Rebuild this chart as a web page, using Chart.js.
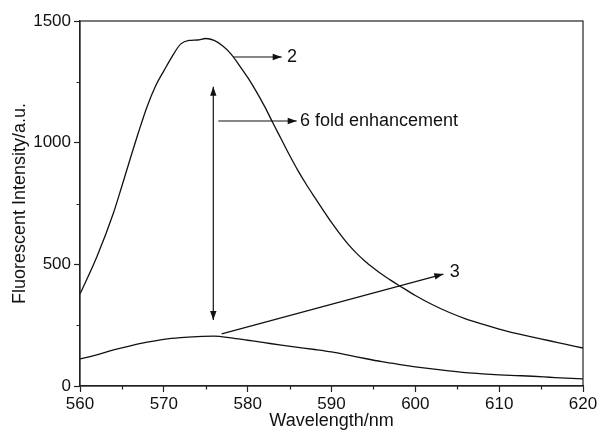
<!DOCTYPE html>
<html>
<head>
<meta charset="utf-8">
<script src="https://cdn.jsdelivr.net/npm/chart.js@4.4.1/dist/chart.umd.min.js"></script>
<style>
  html, body { margin: 0; padding: 0; background: #fff; }
  #wrap { width: 600px; height: 432px; position: relative; }
</style>
</head>
<body>
<div id="wrap"><canvas id="chart"></canvas></div>
<script>
// wavelengths (nm) and intensities
var wavelength2 = [560, 562, 564, 565, 566, 567, 568, 569, 570, 571, 572, 573, 574, 575, 576, 577, 578, 579, 580,
                   581, 582, 583, 584, 585, 586, 587, 588, 589, 590, 591, 592, 593, 594, 595, 596, 597, 598, 599, 600,
                   602, 604, 606, 608, 610, 612, 614, 616, 618, 620];
var intensity2  = [378, 530, 712, 822, 935, 1045, 1148, 1232, 1295, 1355, 1405, 1420, 1422, 1428, 1420, 1398, 1365, 1318, 1268,
                   1212, 1150, 1082, 1015, 948, 885, 828, 775, 723, 672, 625, 582, 545, 513, 485, 459, 436, 414, 393, 372,
                   335, 303, 276, 254, 234, 216, 201, 186, 171, 156];

var wavelength3 = [560, 562, 564, 566, 568, 570, 572, 574, 576, 578, 580, 582, 584, 586, 588, 590,
                   592, 594, 596, 598, 600, 602, 604, 606, 608, 610, 612, 614, 616, 618, 620];
var intensity3  = [111, 128, 148, 165, 180, 192, 199, 203, 205, 198, 188, 178, 168, 159, 150, 140,
                   127, 113, 100, 89, 79, 70, 62, 55, 50, 46, 43, 40, 36, 32, 29];

var xTicks = [560, 570, 580, 590, 600, 610, 620];
var yTicks = [0, 500, 1000, 1500];

// annotation arrows in data units: [x1, y1, x2, y2, headAtStart, headAtEnd]
var arrows = [
    [578.25, 1352, 584.06, 1352, false, true],
    [576.5, 1089, 585.85, 1089, false, true],
    [575.9, 271, 575.9, 1230, true, true],
    [576.9, 214, 603.34, 460, false, true]
];
var notes = [
    ['2', 584.7, 1352],
    ['6 fold enhancement', 586.24, 1089],
    ['3', 604.1, 470]
];

function pts(xs, ys) {
    return xs.map(function (x, i) { return { x: x, y: ys[i] }; });
}

var FONT = "'Liberation Sans', Arial, sans-serif";
var INK = '#111';

function head(ctx, x1, y1, x2, y2) {
    var a = Math.atan2(y2 - y1, x2 - x1);
    var len = 9, w = 3.2;
    ctx.beginPath();
    ctx.moveTo(x2, y2);
    ctx.lineTo(x2 - len * Math.cos(a) + w * Math.sin(a), y2 - len * Math.sin(a) - w * Math.cos(a));
    ctx.lineTo(x2 - len * Math.cos(a) - w * Math.sin(a), y2 - len * Math.sin(a) + w * Math.cos(a));
    ctx.closePath();
    ctx.fill();
}

var frameAndNotes = {
    id: 'frameAndNotes',
    afterDraw: function (chart) {
        var ctx = chart.ctx, a = chart.chartArea;
        var xs = chart.scales.x, ys = chart.scales.y;
        ctx.save();
        ctx.strokeStyle = '#222';
        ctx.lineWidth = 1.2;
        ctx.strokeRect(a.left, a.top, a.right - a.left, a.bottom - a.top);

        // minor ticks
        ctx.beginPath();
        for (var v = 565; v < 620; v += 10) {
            var px = Math.round(xs.getPixelForValue(v)) + 0.5;
            ctx.moveTo(px, a.bottom); ctx.lineTo(px, a.bottom + 3.5);
        }
        for (var w = 250; w < 1500; w += 500) {
            var py = Math.round(ys.getPixelForValue(w)) + 0.5;
            ctx.moveTo(a.left, py); ctx.lineTo(a.left - 3.5, py);
        }
        ctx.stroke();

        ctx.strokeStyle = INK;
        ctx.fillStyle = INK;
        ctx.lineWidth = 1.2;
        arrows.forEach(function (r) {
            var x1 = xs.getPixelForValue(r[0]), y1 = ys.getPixelForValue(r[1]);
            var x2 = xs.getPixelForValue(r[2]), y2 = ys.getPixelForValue(r[3]);
            ctx.beginPath();
            ctx.moveTo(x1, y1); ctx.lineTo(x2, y2);
            ctx.stroke();
            if (r[4]) head(ctx, x2, y2, x1, y1);
            if (r[5]) head(ctx, x1, y1, x2, y2);
        });

        ctx.font = '18px ' + FONT;
        ctx.textAlign = 'left';
        ctx.textBaseline = 'middle';
        notes.forEach(function (n) {
            ctx.fillText(n[0], xs.getPixelForValue(n[1]), ys.getPixelForValue(n[2]));
        });
        ctx.restore();
    }
};

new Chart(document.getElementById('chart'), {
    type: 'line',
    data: {
        datasets: [{
            label: '2',
            data: pts(wavelength2, intensity2),
            borderColor: INK,
            borderWidth: 1.3,
            pointRadius: 0,
            cubicInterpolationMode: 'monotone',
            fill: false
        }, {
            label: '3',
            data: pts(wavelength3, intensity3),
            borderColor: INK,
            borderWidth: 1.3,
            pointRadius: 0,
            cubicInterpolationMode: 'monotone',
            fill: false
        }]
    },
    options: {
        responsive: true,
        maintainAspectRatio: false,
        animation: false,
        events: [],
        layout: { padding: { top: 21, right: 17, left: 0, bottom: 0 } },
        plugins: {
            legend: { display: false },
            tooltip: { enabled: false }
        },
        scales: {
            x: {
                type: 'linear',
                min: 560,
                max: 620,
                afterFit: function (s) { s.height = 46; },
                afterBuildTicks: function (s) { s.ticks = xTicks.map(function (v) { return { value: v }; }); },
                ticks: { color: INK, padding: 2, maxRotation: 0, font: { size: 17, family: FONT },
                         callback: function (v) { return String(v); } },
                grid: { drawOnChartArea: false, drawTicks: true, tickLength: 6, tickColor: '#222', tickWidth: 1.2 },
                border: { display: true, color: '#222', width: 1.2 },
                title: { display: true, text: 'Wavelength/nm', color: INK, padding: { top: 0, bottom: 0 }, font: { size: 18, family: FONT } }
            },
            y: {
                type: 'linear',
                min: 0,
                max: 1500,
                afterFit: function (s) { s.width = 80; },
                afterBuildTicks: function (s) { s.ticks = yTicks.map(function (v) { return { value: v }; }); },
                ticks: { color: INK, padding: 3, font: { size: 17, family: FONT },
                         callback: function (v) { return String(v); } },
                grid: { drawOnChartArea: false, drawTicks: true, tickLength: 6, tickColor: '#222', tickWidth: 1.2 },
                border: { display: true, color: '#222', width: 1.2 },
                title: { display: true, text: 'Fluorescent Intensity/a.u.', color: INK, padding: { top: 9, bottom: 0 }, font: { size: 18, family: FONT } }
            }
        }
    },
    plugins: [frameAndNotes]
});
</script>
</body>
</html>
